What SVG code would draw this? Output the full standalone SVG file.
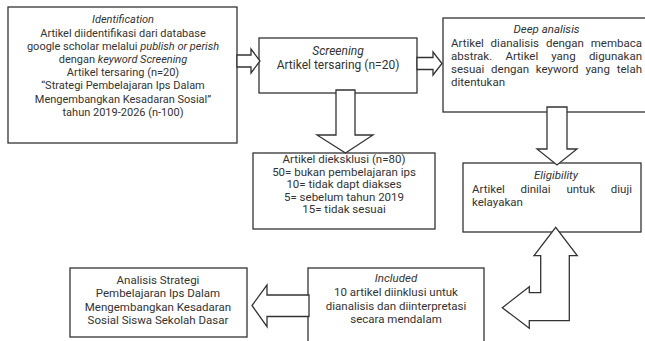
<svg xmlns="http://www.w3.org/2000/svg" width="645" height="341" viewBox="0 0 645 341">
<style>
.box{fill:#fff;stroke:#333;stroke-width:1.3}
.arr{fill:#fff;stroke:#333;stroke-width:1.3;stroke-linejoin:miter}
text{font-family:Roboto,"Liberation Sans",sans-serif;font-size:11.5px;fill:#333}
.s11{font-size:11px}
.s12{font-size:12px}
.c{text-anchor:middle}
.e{text-anchor:end}
.i{font-style:italic}
</style>
<rect width="645" height="341" fill="#fff"/>
<g id="identification">
<rect class="box" x="8" y="7" width="229" height="136"/>
<text class="c i s11" x="123" y="23">Identification</text>
<text class="c s11" x="123" y="36.5">Artikel diidentifikasi dari database</text>
<text class="c s11" x="123" y="50">google scholar melalui <tspan class="i">publish or perish</tspan></text>
<text class="c s11" x="123" y="63">dengan <tspan class="i">keyword Screening</tspan></text>
<text class="c s11" x="123" y="76">Artikel tersaring (n=20)</text>
<text class="c s11" x="123" y="89">“Strategi Pembelajaran Ips Dalam</text>
<text class="c s11" x="123" y="102.5">Mengembangkan Kesadaran Sosial”</text>
<text class="c s11" x="123" y="115.5">tahun 2019-2026 (n-100)</text>
</g>
<g id="screening">
<rect class="box" x="259" y="38" width="158" height="55"/>
<text class="c i s12" x="338" y="55">Screening</text>
<text class="c s12" x="338" y="68.5">Artikel tersaring (n=20)</text>
</g>
<g id="deep-analisis">
<rect class="box" x="443" y="18" width="210" height="94"/>
<text class="c i" x="546.5" y="33">Deep analisis</text>
<text x="451" y="47">Artikel</text><text x="490.6" y="47">dianalisis</text><text x="545.9" y="47">dengan</text><text class="e" x="642" y="47">membaca</text>
<text x="451" y="60">abstrak.</text><text x="505.4" y="60">Artikel</text><text x="551.2" y="60">yang</text><text class="e" x="642" y="60">digunakan</text>
<text x="451" y="73">sesuai</text><text x="491.1" y="73">dengan</text><text x="535.8" y="73">keyword</text><text x="585.5" y="73">yang</text><text class="e" x="642" y="73">telah</text>
<text x="451" y="86">ditentukan</text>
</g>
<g id="excluded">
<rect class="box" x="253" y="153" width="182" height="76"/>
<text class="c" x="344" y="162.5">Artikel dieksklusi (n=80)</text>
<text class="c" x="344" y="175.5">50= bukan pembelajaran ips</text>
<text class="c" x="344" y="188">10= tidak dapt diakses</text>
<text class="c" x="344" y="200.5">5= sebelum tahun 2019</text>
<text class="c" x="344" y="213">15= tidak sesuai</text>
</g>
<g id="eligibility">
<rect class="box" x="463" y="163" width="178" height="69"/>
<text class="c i" x="556" y="179">Eligibility</text>
<text x="472" y="192.5">Artikel</text><text x="520.4" y="192.5">dinilai</text><text x="566.4" y="192.5">untuk</text><text class="e" x="632" y="192.5">diuji</text>
<text x="472" y="205.5">kelayakan</text>
</g>
<g id="included">
<rect class="box" x="308" y="268" width="176" height="80"/>
<text class="c i" x="396" y="282">Included</text>
<text class="c" x="396" y="296">10 artikel diinklusi untuk</text>
<text class="c" x="396" y="309.5">dianalisis dan diinterpretasi</text>
<text class="c" x="396" y="323">secara mendalam</text>
</g>
<g id="analisis">
<rect class="box" x="70" y="268" width="177" height="69"/>
<text class="c" x="158" y="283.5">Analisis Strategi</text>
<text class="c" x="158" y="297">Pembelajaran Ips Dalam</text>
<text class="c" x="158" y="310.5">Mengembangkan Kesadaran</text>
<text class="c" x="158" y="324">Sosial Siswa Sekolah Dasar</text>
</g>
<g id="connectors">
<polygon class="arr" points="237,55 251,55 251,49 260,61 251,73 251,67 237,67"/>
<polygon class="arr" points="417,57.5 433,57.5 433,52 442,63.5 433,75 433,69.5 417,69.5"/>
<polygon class="arr" points="336,90 355,90 355,135 373,135 345.5,153 317,135 336,135"/>
<polygon class="arr" points="547,107 567,107 567,149 577,149 557,165 537,149 547,149"/>
<polygon class="arr" points="529.3,286.7 502.3,307.7 529.3,328.3 529.3,320.7 569.3,320.7 569.3,255.7 577.3,255.7 555.7,227.3 534,255.7 540.7,255.7 540.7,292.7 529.3,292.7"/>
<polygon class="arr" points="309,295 267,295 267,285 252,305.5 267,326.7 267,316.5 309,316.5"/>
</g>
</svg>
